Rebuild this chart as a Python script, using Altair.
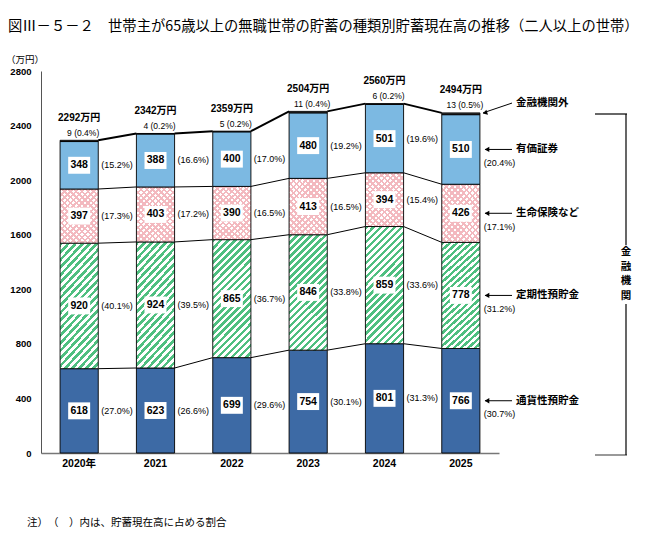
import altair as alt
import pandas as pd

# ---------------- data ----------------
years = ["2020年", "2021", "2022", "2023", "2024", "2025"]
series = ["通貨性預貯金", "定期性預貯金", "生命保険など", "有価証券", "金融機関外"]
tsuka = [618, 623, 699, 754, 801, 766]
teiki = [920, 924, 865, 846, 859, 778]
hoken = [397, 403, 390, 413, 394, 426]
yuka = [348, 388, 400, 480, 501, 510]
gai = [9, 4, 5, 11, 6, 13]
totals = [2292, 2342, 2359, 2504, 2560, 2494]
pct_tsuka = [27.0, 26.6, 29.6, 30.1, 31.3, 30.7]
pct_teiki = [40.1, 39.5, 36.7, 33.8, 33.6, 31.2]
pct_hoken = [17.3, 17.2, 16.5, 16.5, 15.4, 17.1]
pct_yuka = [15.2, 16.6, 17.0, 19.2, 19.6, 20.4]
pct_gai = [0.4, 0.2, 0.2, 0.4, 0.2, 0.5]
y_ticks = [0, 400, 800, 1200, 1600, 2000, 2400, 2800]
title_text = "図Ⅲ－５－２　世帯主が65歳以上の無職世帯の貯蓄の種類別貯蓄現在高の推移（二人以上の世帯）"
note_text = "注）　（　）内は、貯蓄現在高に占める割合"
unit_text = "（万円）"
bracket_text = "金\n融\n機\n関"

JP = "Noto Sans CJK JP"
NUM = "Liberation Sans, Noto Sans CJK JP"

# ---------------- tables ----------------
comp = [tsuka, teiki, hoken, yuka, gai]
pcts = [pct_tsuka, pct_teiki, pct_hoken, pct_yuka, pct_gai]
rows = []
for i, yr in enumerate(years):
    base = 0
    for s, name in enumerate(series):
        v = comp[s][i]
        rows.append(dict(year=yr, series=name, value=v, y0=base, y1=base + v,
                         mid=base + v / 2, pct=f"({pcts[s][i]:.1f}%)",
                         last=(i == len(years) - 1)))
        base += v
df = pd.DataFrame(rows)

tops = []
for i, yr in enumerate(years):
    top = sum(c[i] for c in comp)
    tops.append(dict(year=yr, top=top, total=f"{totals[i]}万円",
                     gai=f"{gai[i]} ({pct_gai[i]:.1f}%)", lab=top + 72,
                     last=(i == len(years) - 1)))
dtop = pd.DataFrame(tops)

conn = []
for i in range(len(years) - 1):
    for k in range(4):
        idx = [0, 1, 2, 4][k]
        a = sum(comp[s][i] for s in range(idx + 1))
        b = sum(comp[s][i + 1] for s in range(idx + 1))
        conn.append(dict(year=years[i], nxt=years[i + 1], ya=a, yb=b,
                         w=2.0 if idx == 4 else 1.0))
dconn = pd.DataFrame(conn)

# ---------------- styling helpers ----------------
def stripes(col_a, col_b, n, frac, direction, w, h):
    c = (w + h) / (w * w + h * h)
    if direction == "/":
        x1, y1, x2, y2 = 0, 0, c * w, c * h
    else:
        x1, y1, x2, y2 = 1, 0, 1 - c * w, c * h
    stops = []
    for j in range(n):
        a = j / n
        m = (j + frac) / n
        b = (j + 1) / n
        stops += [alt.GradientStop(offset=a, color=col_a),
                  alt.GradientStop(offset=m, color=col_a),
                  alt.GradientStop(offset=m, color=col_b),
                  alt.GradientStop(offset=b, color=col_b)]
    return alt.LinearGradient(gradient="linear", stops=stops,
                              x1=x1, y1=y1, x2=x2, y2=y2)

BAR_W = 38.2
green_fill = stripes("#4fbf80", "#ffffff", 22, 0.5, "/", BAR_W, 117)
pink_a = stripes("#f3b9bf", "#ffffff", 16, 0.42, "/", BAR_W, 55)
pink_b = stripes("#f3b9bf", "rgba(255,255,255,0)", 16, 0.42, "\\", BAR_W, 55)

x_scale = alt.Scale(paddingInner=0.5, paddingOuter=0.25)
y_scale = alt.Scale(domain=[0, 2800], nice=False)
xaxis = alt.Axis(title=None, labelAngle=0, tickSize=0, labelPadding=5,
                 bandPosition=0.5, labelAlign="center",
                 domainColor="#777777", domainWidth=1.5,
                 labelFont=NUM, labelFontSize=10.5,
                 labelFontWeight="bold", labelColor="#000000")
xenc = alt.X("year:N", sort=years, scale=x_scale, axis=xaxis)
yaxis = alt.Axis(title=None, values=y_ticks, format="d", grid=False, tickSize=0,
                 labelPadding=10, domainColor="#555555",
                 labelFont=NUM, labelFontSize=9.5, labelFontWeight="bold",
                 labelColor="#000000")

base = alt.Chart(df)

# connectors (drawn beneath bars)
connectors = alt.Chart(dconn).mark_rule(color="#000000").encode(
    x=alt.X("year:N", sort=years, scale=x_scale, bandPosition=1, axis=xaxis),
    x2=alt.X2("nxt:N", bandPosition=0),
    y=alt.Y("ya:Q", scale=y_scale, axis=yaxis),
    y2="yb:Q",
    strokeWidth=alt.StrokeWidth("w:Q", scale=None),
)

def bar_layer(name, fill, stroke=True):
    kw = dict(fill=fill)
    if stroke:
        kw.update(stroke="#000000", strokeWidth=0.9)
    else:
        kw.update(strokeWidth=0)
    return base.transform_filter(alt.datum.series == name).mark_bar(**kw).encode(
        x=xenc, y=alt.Y("y0:Q", scale=y_scale), y2="y1:Q")

bars = [
    bar_layer("通貨性預貯金", "#3d6aa5"),
    bar_layer("定期性預貯金", green_fill),
    bar_layer("生命保険など", pink_a, stroke=False),
    bar_layer("生命保険など", pink_b),
    bar_layer("有価証券", "#7cb9e2"),
    bar_layer("金融機関外", "#333333"),
]

main = base.transform_filter(alt.datum.series != "金融機関外")
boxes = main.mark_point(shape="M-1,-0.77L1,-0.77L1,0.77L-1,0.77Z", size=484,
                        filled=True, fill="#ffffff", opacity=1, strokeWidth=0).encode(
    x=xenc, y=alt.Y("mid:Q", scale=y_scale))
values = main.mark_text(font=NUM, fontSize=10.5, fontWeight="bold",
                        color="#000000").encode(
    x=xenc, y=alt.Y("mid:Q", scale=y_scale), text="value:Q")
pct_text = main.transform_filter(alt.datum.last == False).mark_text(
    font=NUM, fontSize=9, align="left", dx=22, color="#000000").encode(
    x=xenc, y=alt.Y("mid:Q", scale=y_scale), text="pct:N")
pct_last = main.transform_filter(alt.datum.last == True).mark_text(
    font=NUM, fontSize=9, align="left", dx=23, dy=13.5, color="#000000").encode(
    x=xenc, y=alt.Y("mid:Q", scale=y_scale), text="pct:N")

topc = alt.Chart(dtop)
gai_lab = topc.mark_text(font=NUM, fontSize=8.5, dx=4, dy=-7.5,
                         color="#000000").encode(
    x=xenc, y=alt.Y("top:Q", scale=y_scale), text="gai:N")
tot_lab = topc.mark_text(font=NUM, fontSize=10, dy=-22.5, fontWeight="bold",
                         color="#000000").encode(
    x=xenc, y=alt.Y("top:Q", scale=y_scale), text="total:N")

# right-side annotations
last_rows = main.transform_filter(alt.datum.last == True)
arrows = last_rows.mark_rule(color="#000000", strokeWidth=1).encode(
    x=alt.value(444), x2=alt.value(471), y=alt.Y("mid:Q", scale=y_scale))
heads = last_rows.mark_point(shape="triangle-left", size=28, filled=True,
                             color="#000000", opacity=1).encode(
    x=alt.value(446), y=alt.Y("mid:Q", scale=y_scale))
names = last_rows.mark_text(font=JP, fontSize=10.5, fontWeight="bold",
                            align="left", color="#000000").encode(
    x=alt.value(475), y=alt.Y("mid:Q", scale=y_scale), text="series:N")

top_last = topc.transform_filter(alt.datum.last == True)
diag = top_last.mark_rule(color="#000000", strokeWidth=1).encode(
    x=alt.value(442), x2=alt.value(471),
    y=alt.Y("top:Q", scale=y_scale), y2="lab:Q")
diag_head = top_last.mark_point(shape="triangle-left", size=28, filled=True,
                                color="#000000", opacity=1, angle=342).encode(
    x=alt.value(444), y=alt.Y("top:Q", scale=y_scale))
gai_name = top_last.mark_text(font=JP, fontSize=10.5, fontWeight="bold",
                              align="left", color="#000000").encode(
    x=alt.value(475), y=alt.Y("lab:Q", scale=y_scale),
    text=alt.value(series[4]))

# bracket for 金融機関
anno = alt.Chart(pd.DataFrame({"k": [0]}))
br_top = anno.mark_rule(color="#000000", strokeWidth=1.2).encode(
    x=alt.value(554), x2=alt.value(586), y=alt.value(43))
br_bot = anno.mark_rule(color="#777777", strokeWidth=1.5).encode(
    x=alt.value(554), x2=alt.value(586), y=alt.value(384))
br_v1 = anno.mark_rule(color="#000000", strokeWidth=1.2).encode(
    x=alt.value(585), y=alt.value(43), y2=alt.value(174))
br_v2 = anno.mark_rule(color="#000000", strokeWidth=1.2).encode(
    x=alt.value(585), y=alt.value(233), y2=alt.value(384))
br_text = anno.mark_text(font=JP, fontSize=10.5, fontWeight="bold",
                         baseline="top", lineBreak="\n", lineHeight=14.5,
                         color="#000000").encode(
    x=alt.value(585), y=alt.value(176), text=alt.value(bracket_text))

title_mark = anno.mark_text(font=JP, fontSize=14.3, align="left",
                            color="#000000").encode(
    x=alt.value(-33), y=alt.value(-44), text=alt.value(title_text))
unit_mark = anno.mark_text(font=JP, fontSize=9.5, color="#000000").encode(
    x=alt.value(-16), y=alt.value(-11), text=alt.value(unit_text))
note_mark = anno.mark_text(font=JP, fontSize=10.5, align="left",
                           color="#000000").encode(
    x=alt.value(-14), y=alt.value(452), text=alt.value(note_text))

chart = alt.layer(
    connectors, *bars, boxes, values, pct_text, pct_last, gai_lab, tot_lab,
    arrows, heads, names, diag, diag_head, gai_name,
    br_top, br_bot, br_v1, br_v2, br_text, title_mark, unit_mark, note_mark,
).properties(
    width=458, height=382,
    autosize=alt.AutoSizeParams(type="none"),
    padding={"left": 41, "top": 71, "right": 163, "bottom": 102},
).configure_view(stroke=None)

chart.save("out.html", embed_options={"renderer": "svg", "actions": False})
